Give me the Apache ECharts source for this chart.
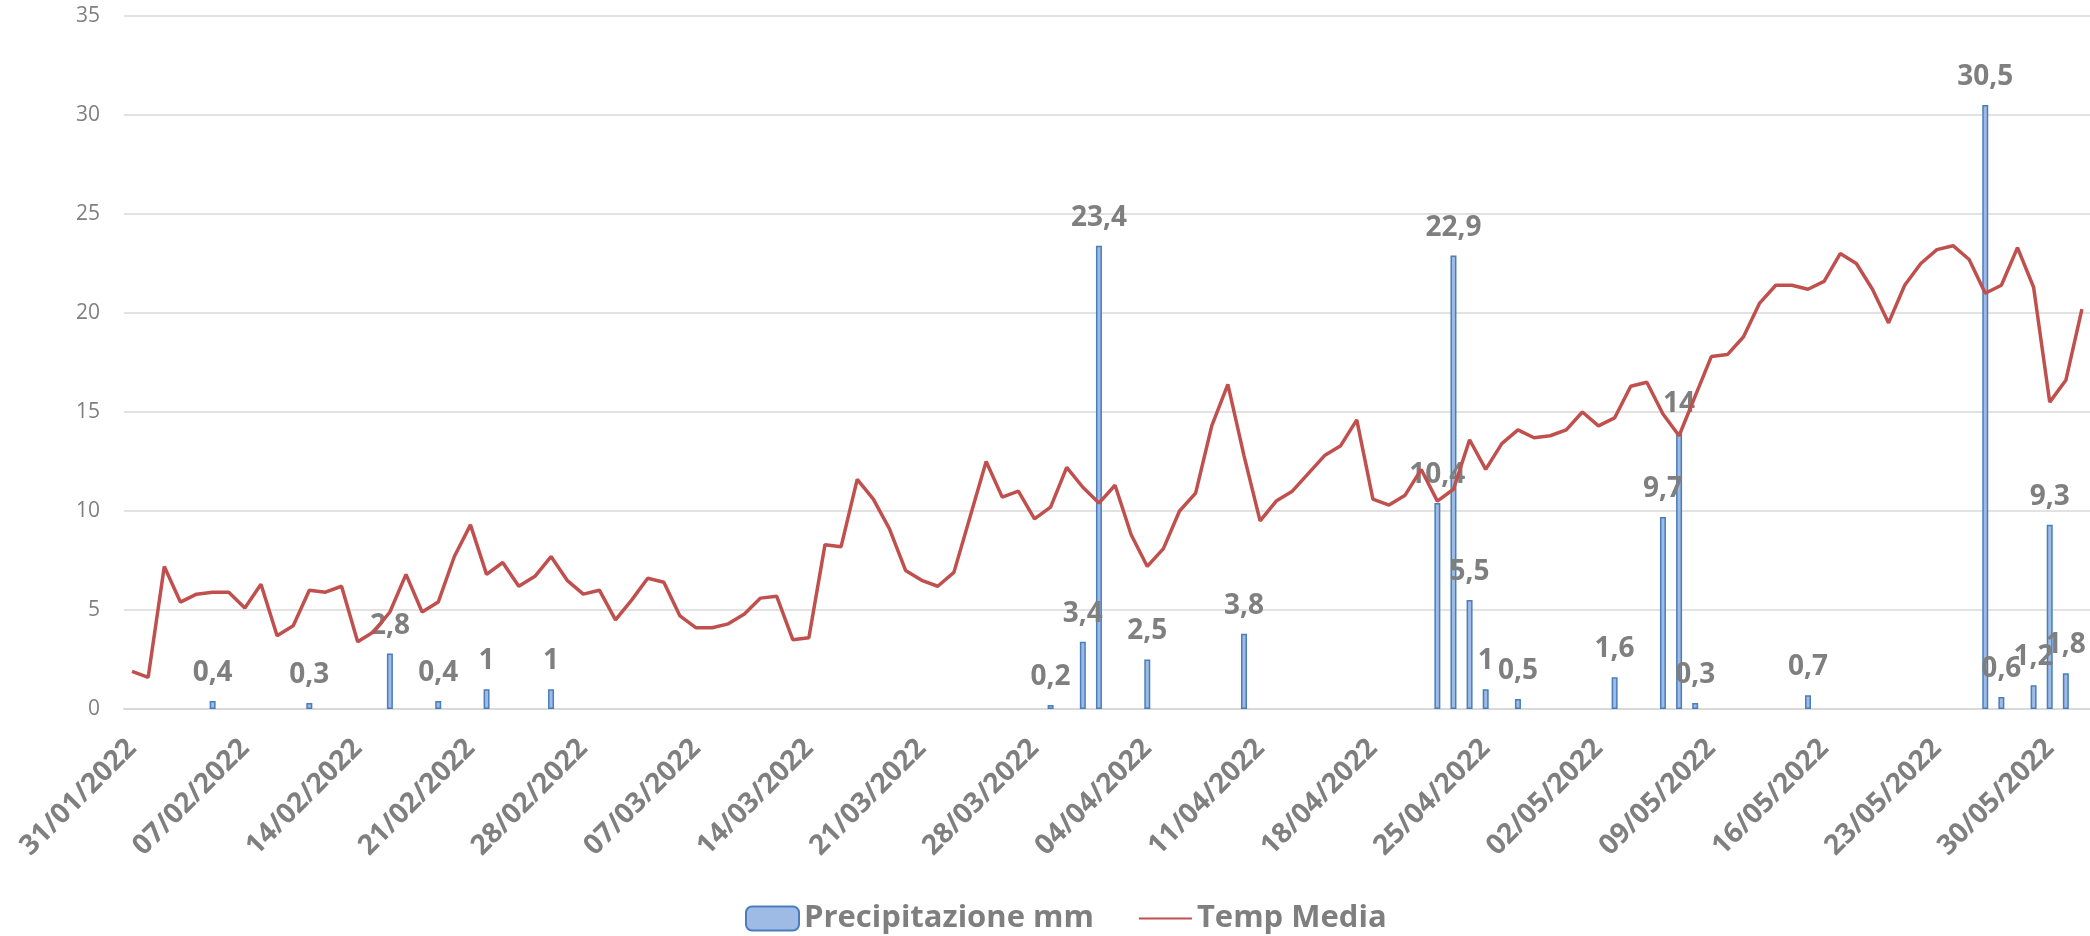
<!DOCTYPE html>
<html>
<head>
<meta charset="utf-8">
<title>Precipitazione e Temp Media</title>
<script src="https://cdn.jsdelivr.net/npm/echarts@6/dist/echarts.min.js"></script>
<style>
  html, body { margin: 0; padding: 0; background: #fff; }
  #chart { width: 2090px; height: 936px; }
</style>
</head>
<body>
<div id="chart"></div>
<script>
// giorni dal 31/01/2022 al 01/06/2022
var startDay = Date.UTC(2022, 0, 31);
var dayCount = 122;
var days = [];
for (var i = 0; i < dayCount; i++) {
  var d = new Date(startDay + i * 86400000);
  var dd = ('0' + d.getUTCDate()).slice(-2);
  var mm = ('0' + (d.getUTCMonth() + 1)).slice(-2);
  days.push(dd + '/' + mm + '/' + d.getUTCFullYear());
}

// precipitazione mm (una riga per settimana, da lunedi)
var precipitazione = [
  0, 0, 0, 0, 0, 0.4, 0,        // 31/01
  0, 0, 0, 0, 0.3, 0, 0,        // 07/02
  0, 0, 2.8, 0, 0, 0.4, 0,      // 14/02
  0, 1, 0, 0, 0, 1, 0,          // 21/02
  0, 0, 0, 0, 0, 0, 0,          // 28/02
  0, 0, 0, 0, 0, 0, 0,          // 07/03
  0, 0, 0, 0, 0, 0, 0,          // 14/03
  0, 0, 0, 0, 0, 0, 0,          // 21/03
  0, 0.2, 0, 3.4, 23.4, 0, 0,   // 28/03
  2.5, 0, 0, 0, 0, 0, 3.8,      // 04/04
  0, 0, 0, 0, 0, 0, 0,          // 11/04
  0, 0, 0, 0, 10.4, 22.9, 5.5,  // 18/04
  1, 0, 0.5, 0, 0, 0, 0,        // 25/04
  0, 1.6, 0, 0, 9.7, 14, 0.3,   // 02/05
  0, 0, 0, 0, 0, 0, 0.7,        // 09/05
  0, 0, 0, 0, 0, 0, 0,          // 16/05
  0, 0, 0, 30.5, 0.6, 0, 1.2,   // 23/05
  9.3, 1.8, 0                   // 30/05
];

// temperatura media
var tempMedia = [
  1.9, 1.6, 7.2, 5.4, 5.8, 5.9, 5.9,
  5.1, 6.3, 3.7, 4.2, 6.0, 5.9, 6.2,
  3.4, 3.9, 4.9, 6.8, 4.9, 5.4, 7.7,
  9.3, 6.8, 7.4, 6.2, 6.7, 7.7, 6.5,
  5.8, 6.0, 4.5, 5.5, 6.6, 6.4, 4.7,
  4.1, 4.1, 4.3, 4.8, 5.6, 5.7, 3.5,
  3.6, 8.3, 8.2, 11.6, 10.6, 9.1, 7.0,
  6.5, 6.2, 6.9, 9.7, 12.5, 10.7, 11.0,
  9.6, 10.2, 12.2, 11.2, 10.4, 11.3, 8.8,
  7.2, 8.1, 10.0, 10.9, 14.3, 16.4, 12.8,
  9.5, 10.5, 11.0, 11.9, 12.8, 13.3, 14.6,
  10.6, 10.3, 10.8, 12.1, 10.5, 11.1, 13.6,
  12.1, 13.4, 14.1, 13.7, 13.8, 14.1, 15.0,
  14.3, 14.7, 16.3, 16.5, 14.9, 13.8, 15.8,
  17.8, 17.9, 18.8, 20.5, 21.4, 21.4, 21.2,
  21.6, 23.0, 22.5, 21.2, 19.5, 21.4, 22.5,
  23.2, 23.4, 22.7, 21.0, 21.4, 23.3, 21.3,
  15.5, 16.6, 20.2
];

var yTicks = { min: 0, max: 35, step: 5 };

// i giorni senza pioggia non disegnano la barra
var barData = precipitazione.map(function (v) { return v ? v : null; });

var chart = echarts.init(document.getElementById('chart'));
var grigio = '#7f7f7f';

chart.setOption({
  animation: false,
  textStyle: { fontFamily: 'Open Sans' },
  grid: { left: 124, right: 0, top: 16, bottom: 227 },
  legend: {
    left: 740,
    top: 898,
    itemWidth: 53,
    itemHeight: 24,
    itemGap: 44,
    textStyle: { color: grigio, fontSize: 31, fontWeight: 'bold' },
    data: [
      'Precipitazione mm',
      { name: 'Temp Media', itemStyle: { color: 'rgba(0,0,0,0)', borderWidth: 0 } }
    ]
  },
  xAxis: {
    type: 'category',
    data: days,
    boundaryGap: true,
    axisLine: { lineStyle: { color: '#d9d9d9', width: 2 } },
    axisTick: { interval: 6, length: 9, lineStyle: { color: '#d9d9d9', width: 2 } },
    axisLabel: {
      interval: 6,
      rotate: 45,
      margin: 35,
      color: grigio,
      fontSize: 28,
      fontWeight: 'bold'
    }
  },
  yAxis: {
    type: 'value',
    min: yTicks.min,
    max: yTicks.max,
    interval: yTicks.step,
    axisLine: { show: false },
    axisTick: { show: false },
    axisLabel: { color: grigio, fontSize: 21, margin: 24 },
    splitLine: { lineStyle: { color: '#d9d9d9', width: 1.5 } }
  },
  series: [
    {
      name: 'Precipitazione mm',
      type: 'bar',
      data: barData,
      barWidth: 6,
      itemStyle: {
        color: '#9dbbe4',
        borderColor: '#4a7ebb',
        borderWidth: 1.5
      },
      label: {
        show: true,
        position: 'top',
        distance: 14,
        color: grigio,
        fontSize: 28,
        fontWeight: 'bold',
        formatter: function (p) {
          if (!p.value) return '';
          return String(p.value).replace('.', ',');
        }
      },
      z: 2
    },
    {
      name: 'Temp Media',
      type: 'line',
      data: tempMedia,
      symbol: 'none',
      lineStyle: { color: '#c0504d', width: 3.5 },
      itemStyle: { color: '#c0504d' },
      z: 3
    }
  ]
});
</script>
</body>
</html>
